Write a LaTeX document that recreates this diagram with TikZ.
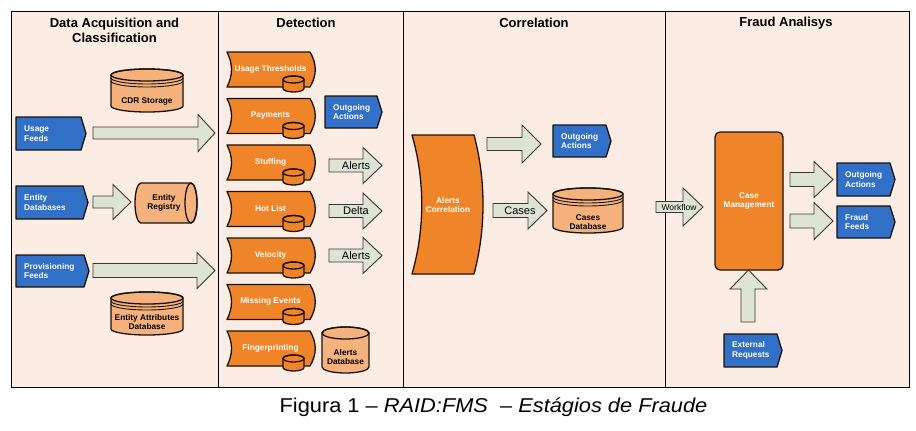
\documentclass[tikz,border=0pt]{standalone}
\usepackage{fontspec}
\setmainfont{Liberation Sans}
\definecolor{panel}{RGB}{252,237,228}
\definecolor{orng}{RGB}{240,132,40}
\definecolor{lorng}{RGB}{246,178,125}
\definecolor{blu}{RGB}{50,112,200}
\definecolor{arrfill}{RGB}{222,228,212}
\definecolor{edge}{RGB}{25,18,12}
\tikzset{
  shp/.style={draw=edge, line width=1.3pt, line join=round},
  arr/.style={draw=edge!85, line width=0.9pt, fill=arrfill, line join=miter},
  lbl/.style={font=\fontsize{8.3}{9.6}\selectfont\bfseries, align=center, inner sep=0pt},
  wlbl/.style={lbl, text=white},
  hdr/.style={font=\fontsize{13}{15}\selectfont\bfseries, align=center, inner sep=0pt},
  albl/.style={font=\fontsize{11}{12}\selectfont, inner sep=0pt},
}
% block arrow: x0, xh, x1, yc, half body, half head
\newcommand\blk[6]{%
  \filldraw[arr] (#1,{#4-#5}) -- (#2,{#4-#5}) -- (#2,{#4-#6}) -- (#3,#4) -- (#2,{#4+#6}) -- (#2,{#4+#5}) -- (#1,{#4+#5}) -- cycle;}
% blue tag: name, x0, y0, x1, y1, text
\newcommand\bluetag[6]{%
  \filldraw[shp, fill=blu] (#2,#3) -- ({#4-5},#3) -- (#4,{(#3+#5)/2}) -- ({#4-5},#5) -- (#2,#5) -- cycle;
  \node[wlbl, anchor=west, align=left] (#1) at ({#2+8},{(#3+#5)/2}) {#6};}
% vertical cylinder: cx, top, w, h, ry, fill
\newcommand\cyl[6]{%
  \filldraw[shp, fill=#6] ({#1-#3/2},{#2+#5}) -- ({#1-#3/2},{#2+#4-#5}) arc[start angle=180,end angle=0,x radius=#3/2,y radius=#5] -- ({#1+#3/2},{#2+#5}) arc[start angle=0,end angle=-180,x radius=#3/2,y radius=#5] -- cycle;
  \draw[shp] (#1,{#2+#5}) ellipse[x radius=#3/2, y radius=#5];}
% disk layers: cx, top, w, ry
\newcommand\cyllayers[4]{%
  \draw[edge, line width=0.9pt] ({#1-#3/2},{#2+#4+3}) arc[start angle=180,end angle=0,x radius=#3/2,y radius=#4];
  \draw[edge, line width=0.9pt] ({#1-#3/2},{#2+#4+6}) arc[start angle=180,end angle=0,x radius=#3/2,y radius=#4];}
% detection process: name, x0, y0, text
\newcommand\proc[4]{%
  \filldraw[shp, fill=orng] (#2,#3) -- ({#2+83},#3) .. controls ({#2+90},{#3+12}) and ({#2+90},{#3+23}) .. ({#2+83},{#3+35}) -- (#2,{#3+35}) .. controls ({#2+6},{#3+23}) and ({#2+6},{#3+12}) .. (#2,#3) -- cycle;
  \cyl{#2+66.5}{#3+24}{21}{16}{3.5}{orng}
  \node[wlbl] (#1) at ({#2+43.5},{#3+17}) {#4};}
\begin{document}
\begin{tikzpicture}[x=1pt,y=-1pt]
\useasboundingbox (0,0) rectangle (916,431);
\fill[white] (0,0) rectangle (916,431);
% panels
\fill[panel] (11,11) rectangle (909,387);
\draw[black, line width=1pt] (11,11) rectangle (909,387);
\foreach \xx in {218,403,665} \draw[black, line width=1pt] (\xx,11) -- (\xx,387);
% headers
\node[hdr] (h1) at (114.5,30.5) {Data Acquisition and\\Classification};
\node[hdr] (h2) at (306,23) {Detection};
\node[hdr] (h3) at (534,23) {Correlation};
\node[hdr] (h4) at (786,23) {Fraud Analisys};

% ---------- Data acquisition
\cyl{147}{69}{72}{43}{6}{lorng}
\cyllayers{147}{69}{72}{6}
\node[lbl] (cdr) at (147,101.5) {CDR Storage};
\bluetag{usage}{16}{117}{86}{150}{Usage\\Feeds}
\blk{93}{198}{215}{133}{6}{18.5}
\bluetag{entdb}{16}{186}{88}{219}{Entity\\Databases}
\blk{93}{113}{131}{202}{6}{17.5}
\filldraw[shp, fill=lorng] (141,183) -- (191,183) arc[start angle=-90,end angle=90,x radius=6,y radius=20] -- (141,223) arc[start angle=90,end angle=270,x radius=6,y radius=20] -- cycle;
\draw[shp] (191,203) ellipse[x radius=6, y radius=20];
\node[lbl] (entreg) at (164,203) {Entity\\Registry};
\bluetag{prov}{16}{255}{89}{287}{Provisioning\\Feeds}
\blk{93}{197}{215}{270.5}{7}{18}
\cyl{147}{292}{72}{43}{6}{lorng}
\cyllayers{147}{292}{72}{6}
\node[lbl] (entattr) at (147,322) {Entity Attributes\\Database};

% ---------- Detection
\proc{p1}{227}{52}{Usage Thresholds}
\proc{p2}{227}{98.5}{Payments}
\proc{p3}{227}{145}{Stuffing}
\proc{p4}{227}{191.5}{Hot List}
\proc{p5}{227}{238}{Velocity}
\proc{p6}{227}{284.5}{Missing Events}
\proc{p7}{227}{331}{Fingerprinting}
\bluetag{outdet}{325}{96}{382}{128}{Outgoing\\Actions}
\blk{329}{363}{382}{165.5}{6.5}{18}
\node[albl] (al1) at (356,165.5) {Alerts};
\blk{329}{363}{382}{211}{6.5}{18}
\node[albl] (dl) at (356,211) {Delta};
\blk{329}{363}{382}{255.5}{6.5}{18}
\node[albl] (al2) at (356,255.5) {Alerts};
\cyl{345.5}{327}{47}{46}{6}{lorng}
\node[lbl] (aldb) at (345.5,357) {Alerts\\Database};

% ---------- Correlation
\filldraw[shp, fill=orng] (412,135) -- (474,135) .. controls (486,180) and (486,229) .. (474,274) -- (412,274) .. controls (425,229) and (425,180) .. (412,135) -- cycle;
\node[wlbl] (alcorr) at (448,205) {Alerts\\Correlation};
\blk{487}{522}{541}{144}{6.5}{19}
\bluetag{outcorr}{553}{125}{611}{157}{Outgoing\\Actions}
\blk{493}{528}{547}{210.5}{7}{18.5}
\node[albl] (cases) at (520,210.5) {Cases};
\cyl{588}{188}{70}{45}{6}{lorng}
\cyllayers{588}{188}{70}{6}
\node[lbl] (casesdb) at (588,222) {Cases\\Database};

% ---------- Fraud analysis
\blk{656}{683}{703}{207}{5.5}{19}
\node[font=\fontsize{8.5}{10}\selectfont, inner sep=0pt] (wf) at (679,207.5) {Workflow};
\filldraw[shp, fill=orng, rounded corners=5pt] (715,132) rectangle (783,270);
\node[wlbl] (cm) at (749,201) {Case\\Management};
\blk{790}{814}{833}{179.5}{7}{18}
\bluetag{outfr}{837}{163}{895}{196}{Outgoing\\Actions}
\blk{790}{814}{833}{221}{7}{18.5}
\bluetag{ffeeds}{837}{206}{895}{238}{Fraud\\Feeds}
\filldraw[arr] (730,289) -- (748.5,270) -- (767,289) -- (755,289) -- (755,322) -- (741,322) -- (741,289) -- cycle;
\bluetag{extreq}{724}{334}{782}{367}{External\\Requests}

% caption
\node[font=\fontsize{20}{22}\selectfont, anchor=base, inner sep=0pt, xscale=1.09] (cap) at (493.5,412.5) {Figura 1 – \textit{RAID:FMS}\ \ – \textit{Estágios de Fraude}};
\end{tikzpicture}
\end{document}
